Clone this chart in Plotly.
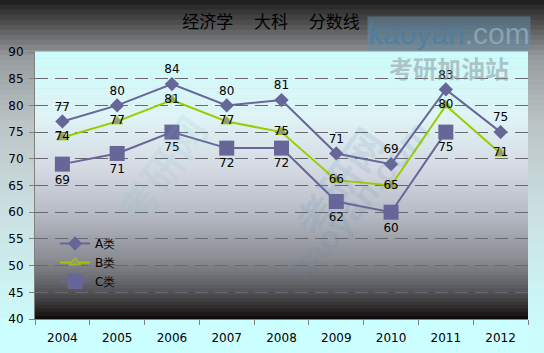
import plotly.graph_objects as go

years = ["2004", "2005", "2006", "2007", "2008", "2009", "2010", "2011", "2012"]
a_vals = [77, 80, 84, 80, 81, 71, 69, 83, 75]
b_vals = [74, 77, 81, 77, 75, 66, 65, 80, 71]
c_vals = [69, 71, 75, 72, 72, 62, 60, 75, None]
y_ticks = [40, 45, 50, 55, 60, 65, 70, 75, 80, 85, 90]

W, H = 544, 353
ML, MR, MT, MB = 35, 16, 52, 34
PW, PH = W - ML - MR, H - MT - MB


def hex2rgb(h):
    h = h.lstrip("#")
    return tuple(int(h[i:i + 2], 16) for i in (0, 2, 4))


def interp(stops, t):
    for i in range(len(stops) - 1):
        t0, c0 = stops[i]
        t1, c1 = stops[i + 1]
        if t0 <= t <= t1:
            f = 0 if t1 == t0 else (t - t0) / (t1 - t0)
            r0, g0, b0 = hex2rgb(c0)
            r1, g1, b1 = hex2rgb(c1)
            return "rgb(%d,%d,%d)" % (r0 + (r1 - r0) * f, g0 + (g1 - g0) * f, b0 + (b1 - b0) * f)
    return stops[-1][1]


shapes = []
# outer background gradient (t=0 top -> 1 bottom)
outer_stops = [(0.0, "#1c1c1c"), (0.06, "#4a4a4a"), (0.16, "#969a9e"), (0.35, "#bcc4c6"),
               (0.6, "#cce0e2"), (0.85, "#ccf6f6"), (1.0, "#ccffff")]
N = 70
x0p, x1p = -ML / PW, 1 + MR / PW
ytop, ybot = 1 + MT / PH, -MB / PH
for i in range(N):
    t = (i + 0.5) / N
    ya = ytop - (ytop - ybot) * i / N
    yb = ytop - (ytop - ybot) * (i + 1) / N
    shapes.append(dict(type="rect", xref="paper", yref="paper", x0=x0p, x1=x1p, y0=yb, y1=ya + 0.002,
                       fillcolor=interp(outer_stops, t), line=dict(width=0), layer="below"))
# bottom cyan band
shapes.append(dict(type="rect", xref="paper", yref="paper", x0=x0p, x1=1.0, y0=ybot, y1=0.0,
                   fillcolor="#ccffff", line=dict(width=0), layer="below"))
# plot area gradient (t=0 top -> 1 bottom)
plot_stops = [(0.0, "#ccfcfc"), (0.25, "#e0f4f6"), (0.45, "#d4d8e2"), (0.62, "#b4b8c2"),
              (0.78, "#8a8c92"), (0.9, "#555558"), (0.97, "#262424"), (1.0, "#0c0606")]
N2 = 80
for i in range(N2):
    t = (i + 0.5) / N2
    ya = 1 - i / N2
    yb = 1 - (i + 1) / N2
    shapes.append(dict(type="rect", xref="paper", yref="paper", x0=0, x1=1, y0=yb, y1=ya + 0.002,
                       fillcolor=interp(plot_stops, t), line=dict(width=0), layer="below"))

fig = go.Figure()
lab_font = dict(family="DejaVu Sans", size=12, color="black")

fig.add_trace(go.Scatter(x=years, y=a_vals, name="A类", mode="lines+markers+text",
                         line=dict(color="#666699", width=2),
                         marker=dict(symbol="diamond", size=11, color="#666699"),
                         text=[str(v) for v in a_vals], textposition="top center",
                         textfont=lab_font, cliponaxis=False))
fig.add_trace(go.Scatter(x=years, y=b_vals, name="B类", mode="lines+markers+text",
                         line=dict(color="#99cc00", width=2),
                         marker=dict(symbol="triangle-up", size=10, color="#999977",
                                     line=dict(color="#99cc00", width=1)),
                         text=[str(v) for v in b_vals], textposition="middle center",
                         textfont=lab_font, cliponaxis=False))
fig.add_trace(go.Scatter(x=years, y=c_vals, name="C类", mode="lines+markers+text",
                         line=dict(color="#666699", width=2),
                         marker=dict(symbol="square", size=15, color="#666699"),
                         text=[("" if v is None else str(v)) for v in c_vals], textposition="bottom center",
                         textfont=lab_font, cliponaxis=False, connectgaps=False))

annotations = [
    dict(text="kaoyan<span style='color:rgba(150,175,190,0.9)'>.com</span>", xref="paper", yref="paper",
         x=(449 - ML) / PW, y=1 + (MT - 33) / PH, xanchor="center", yanchor="middle", showarrow=False,
         font=dict(family="Liberation Sans", size=30, color="rgba(80,125,160,0.85)"),
         bgcolor="rgba(100,140,165,0.55)", borderpad=0),
    dict(text="<b>考研加油站</b>", xref="paper", yref="paper",
         x=(449 - ML) / PW, y=1 - (67 - MT) / PH, xanchor="center", yanchor="middle", showarrow=False,
         font=dict(family="Noto Sans CJK SC", size=24, color="rgba(140,150,155,0.55)")),
    dict(text="<b>考研网</b>", xref="paper", yref="paper", x=(100 - ML) / PW, y=1 - (100 - MT) / PH,
         textangle=-55, showarrow=False,
         font=dict(family="Noto Sans CJK SC", size=40, color="rgba(120,190,200,0.12)")),
    dict(text="<b>考研网</b>", xref="paper", yref="paper", x=(400 - ML) / PW, y=1 - (250 - MT) / PH,
         textangle=-55, showarrow=False,
         font=dict(family="Noto Sans CJK SC", size=40, color="rgba(80,140,180,0.15)")),
    dict(text="<b>kaoyan.com</b>", xref="paper", yref="paper", x=(440 - ML) / PW, y=1 - (290 - MT) / PH,
         textangle=-50, showarrow=False,
         font=dict(family="Liberation Sans", size=34, color="rgba(80,140,180,0.15)")),
]

fig.update_layout(
    width=W, height=H,
    margin=dict(l=ML, r=MR, t=MT, b=MB, autoexpand=False),
    paper_bgcolor="#ccffff", plot_bgcolor="rgba(0,0,0,0)",
    shapes=shapes,
    annotations=annotations,
    title=dict(text="经济学　 大科　 分数线", x=271 / W, xanchor="center", y=1 - 22 / H, yanchor="middle",
               font=dict(family="Noto Sans CJK SC", size=17, color="black")),
    showlegend=True,
    legend=dict(x=(55 - ML) / PW, y=(319 - 229) / PH, xanchor="left", yanchor="top",
                bgcolor="rgba(0,0,0,0)", font=dict(family="DejaVu Sans", size=12, color="black"),
                tracegroupgap=7, itemsizing="trace"),
    font=dict(family="DejaVu Sans", size=12, color="black"),
)
fig.update_xaxes(type="category", range=[-0.5, 8.5], tickson="boundaries", ticks="outside", ticklen=5,
                 tickcolor="#808080", showline=True, linecolor="#808080", linewidth=1, showgrid=False,
                 ticklabelstandoff=8, automargin=False,
                 tickfont=dict(family="DejaVu Sans", size=12, color="black"))
fig.update_yaxes(range=[40, 90], tickvals=y_ticks, ticks="outside", ticklen=5, tickcolor="#808080",
                 showline=True, linecolor="#808080", linewidth=1, showgrid=True, gridcolor="#68686e",
                 griddash="13px,7px", gridwidth=1, zeroline=False, ticklabelstandoff=3, automargin=False,
                 tickfont=dict(family="DejaVu Sans", size=12, color="black"))

fig.write_html("out.html")
